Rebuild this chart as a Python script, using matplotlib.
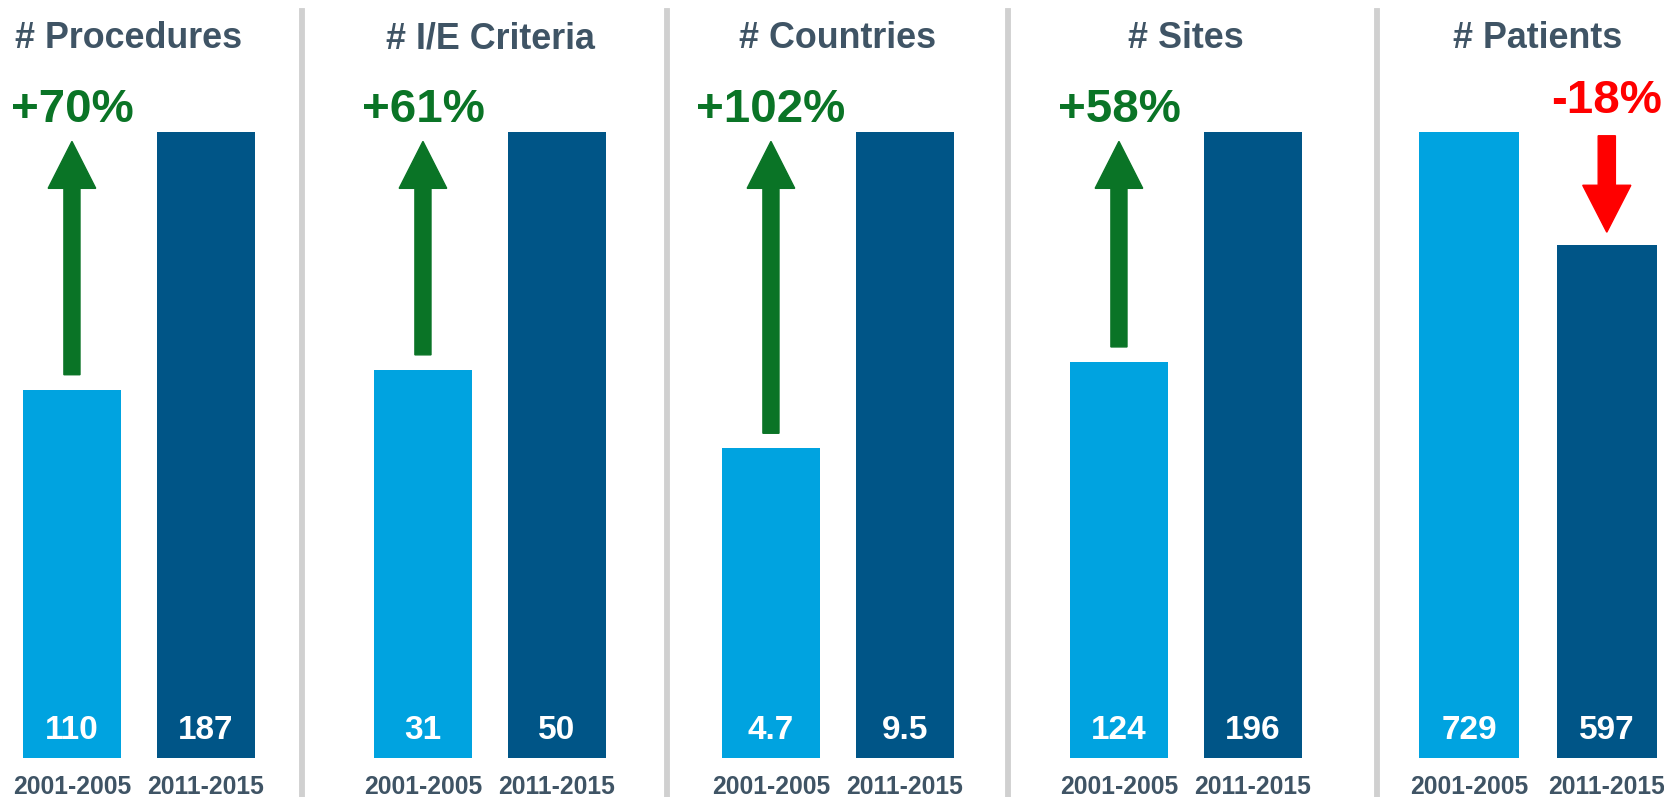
import matplotlib
matplotlib.use("Agg")
import matplotlib.pyplot as plt
from matplotlib.lines import Line2D

plt.rcParams['font.family'] = ['Liberation Sans', 'DejaVu Sans']
plt.rcParams['font.weight'] = 'bold'

titles = ["# Procedures", "# I/E Criteria", "# Countries", "# Sites", "# Patients"]
periods = ["2001-2005", "2011-2015"]
early = [110, 31, 4.7, 124, 729]
late = [187, 50, 9.5, 196, 597]
early_lbl = ["110", "31", "4.7", "124", "729"]
late_lbl = ["187", "50", "9.5", "196", "597"]
change = ["+70%", "+61%", "+102%", "+58%", "-18%"]

LIGHT = "#00A3E0"
DARK = "#005587"
GREEN = "#0A7426"
RED = "#FF0000"
SLATE = "#3F5465"

W, H = 1664, 797
fig = plt.figure(figsize=(W / 100, H / 100), dpi=100)

# panel extents in pixels (left edge of light bar, right edge of dark bar)
panel_px = [(23, 255), (374, 606), (722, 954), (1070, 1302), (1419, 1657)]
sep_px = [302, 667, 1008, 1377]
base_px, top_px = 758, 132
bw = 0.73
title_dx = [-0.08, 0, 0, 0, 0]

for i in range(5):
    l, r = panel_px[i]
    ax = fig.add_axes([l / W, (H - base_px) / H, (r - l) / W, (base_px - top_px) / H])
    vmax = max(early[i], late[i])
    ax.bar([0, 1], [early[i], late[i]], width=bw, color=[LIGHT, DARK])
    ax.set_xlim(-bw / 2, 1 + bw / 2)
    ax.set_ylim(0, vmax)
    ax.set_yticks([])
    ax.set_xticks([0, 1])
    ax.set_xticklabels(periods, fontsize=17.8, color=SLATE, fontweight='bold')
    ax.tick_params(axis='x', length=0, pad=12)
    for s in ax.spines.values():
        s.set_visible(False)

    tr = ax.get_xaxis_transform()
    ax.text(0.5 + title_dx[i], 1.134, titles[i], transform=tr, ha='center',
            va='baseline', fontsize=25.8, color=SLATE, fontweight='bold')

    for x, lbl in zip([0, 1], [early_lbl[i], late_lbl[i]]):
        ax.text(x, (base_px - 739) / (base_px - top_px), lbl, transform=tr,
                ha='center', va='baseline', fontsize=24, color='white',
                fontweight='bold')

    if late[i] >= early[i]:
        y0 = early[i] + 0.024 * vmax
        y1 = 0.985 * vmax
        ax.arrow(0, y0, 0, y1 - y0, width=0.12, head_width=0.355,
                 head_length=0.075 * vmax, length_includes_head=True,
                 color=GREEN, clip_on=False)
        ax.text(0, 1.016, change[i], transform=tr, ha='center', va='baseline',
                fontsize=34.2, color=GREEN, fontweight='bold')
    else:
        y0 = 0.994 * vmax
        y1 = late[i] + 0.021 * vmax
        ax.arrow(1, y0, 0, y1 - y0, width=0.125, head_width=0.35,
                 head_length=0.075 * vmax, length_includes_head=True,
                 color=RED, clip_on=False)
        ax.text(1, 1.030, change[i], transform=tr, ha='center', va='baseline',
                fontsize=34.2, color=RED, fontweight='bold')

for sx in sep_px:
    fig.add_artist(Line2D([sx / W, sx / W], [0, (H - 11) / H], color="#D0D0D0",
                          linewidth=4.2, transform=fig.transFigure))

fig.savefig("out.png", dpi=100, facecolor='white')
